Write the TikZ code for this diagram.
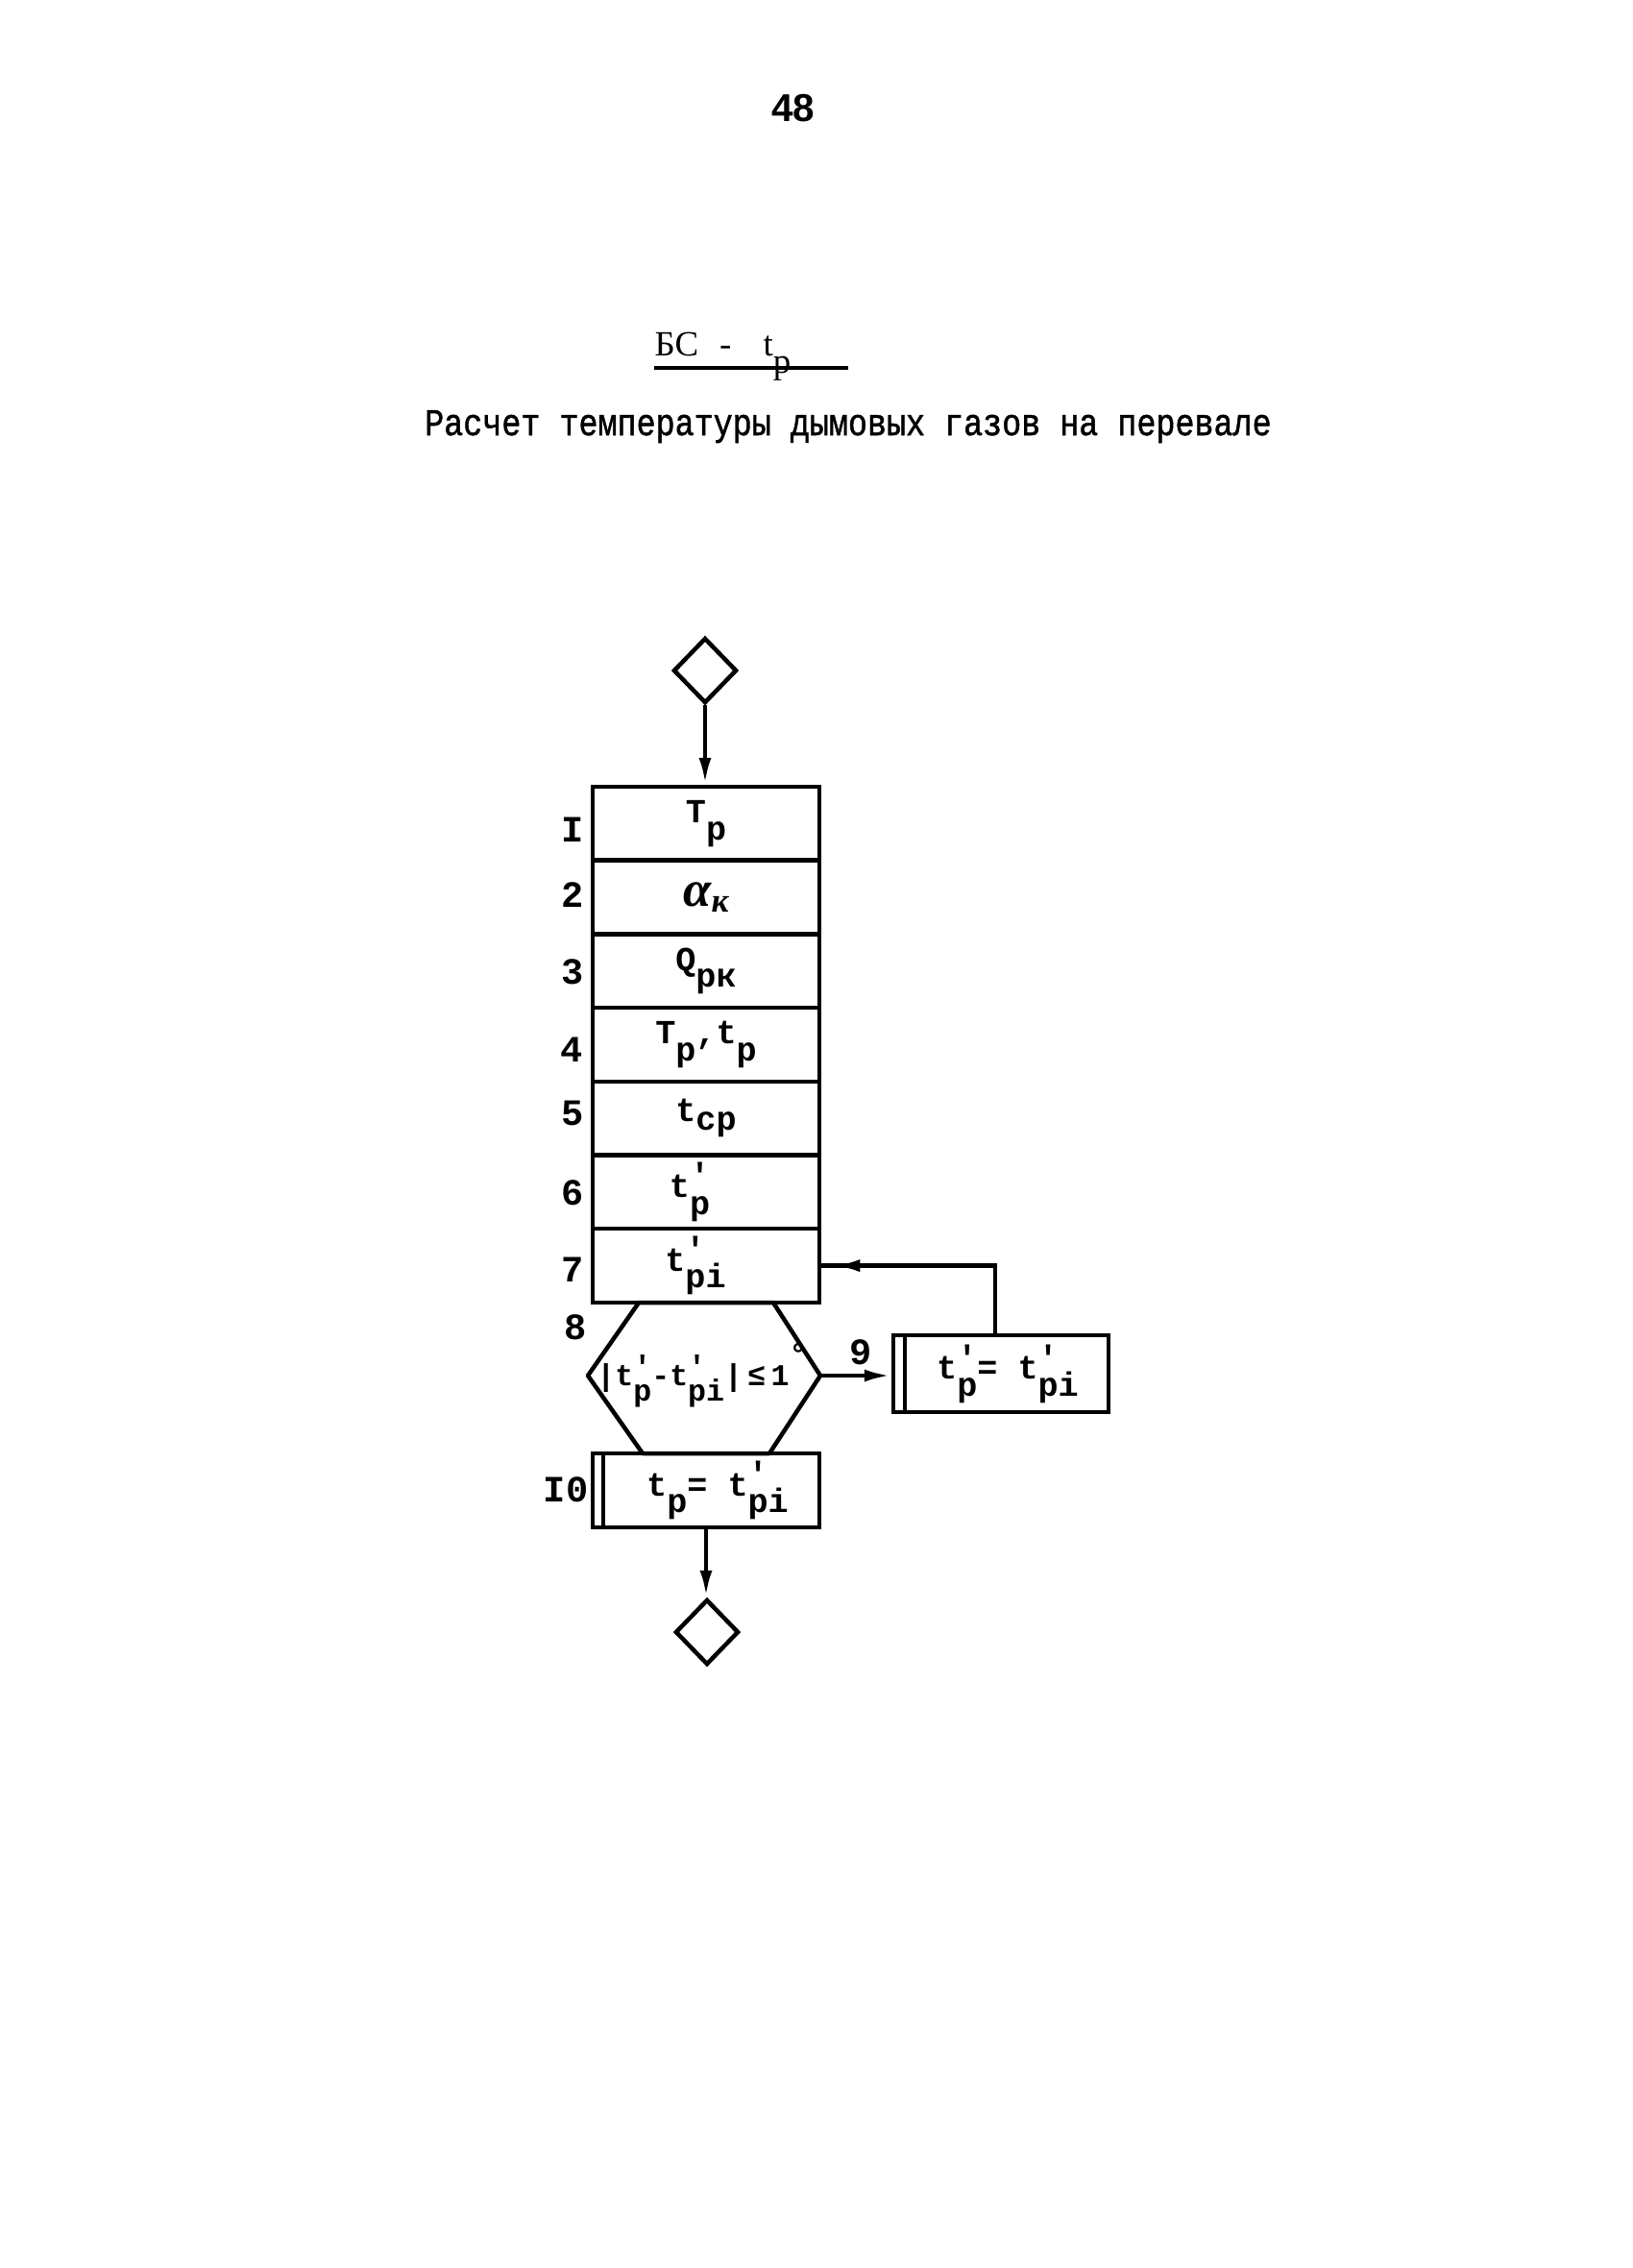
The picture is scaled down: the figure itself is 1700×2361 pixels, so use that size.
\documentclass[tikz,border=0pt]{standalone}
\usepackage{fontspec}
\usepackage{graphicx}
\setmainfont{Liberation Serif}
\newfontfamily\tw{Liberation Mono}
\newfontfamily\twt{Liberation Mono}[FakeBold=1.3]
\newfontfamily\pgnum{Liberation Sans}
\usetikzlibrary{arrows.meta,shapes.geometric,calc}
\newcommand\lo[1]{\raisebox{-0.5em}{#1}}
\newcommand\ps[1]{\rlap{\raisebox{0.3em}{'}}\raisebox{-0.5em}{#1}}
\begin{document}
\begin{tikzpicture}[x=0.1mm,y=-0.1mm,
  ln/.style={line width=0.45mm},
  rowbox/.style={draw,ln,minimum width=23.6mm,minimum height=7.67mm,inner sep=0pt,
    font=\tw\bfseries\fontsize{10}{12}\selectfont},
  num/.style={inner sep=0pt,font=\tw\bfseries\fontsize{11}{13}\selectfont},
  arr/.style={ln,-{Latex[length=2.8mm,width=1.3mm]}},
  term/.style={shape=diamond,draw,ln,minimum width=6.6mm,minimum height=6.8mm,inner sep=0pt}]
\useasboundingbox (0,0) rectangle (1700,2361);
\fill[white] (0,0) rectangle (1700,2361);

% page number, heading, title
\node[inner sep=0pt,font=\pgnum\bfseries\fontsize{11.5}{13}\selectfont] (pg) at (826,113) {48};
\node[anchor=base west,inner sep=0pt,font=\fontsize{10.5}{12}\selectfont] (hd) at (681,370)
  {БС\hspace{2.2mm}-\hspace{3.3mm}t\lo{р}};
\draw[line width=0.35mm] (hd.base west) ++(0,13) -- ++(202,0);
\node[anchor=base,inner sep=0pt,font=\twt\fontsize{9.5}{11}\selectfont] (ttl) at (883,453)
  {\scalebox{1}[1.18]{Расчет температуры дымовых газов на перевале}};

% start terminal
\node[term] (beg) at (734,698) {};

% stacked rows
\node[rowbox] (r1) at (735,857.35) {T\lo{р}};
\node[rowbox] (r2) at (735,934.05) {{\rmfamily\bfseries\itshape\fontsize{15}{16}\selectfont α\raisebox{-0.1em}{\fontsize{10}{10}\selectfont к}}};
\node[rowbox] (r3) at (735,1010.75) {Q\lo{рк}};
\node[rowbox] (r4) at (735,1087.45) {T\lo{р},t\lo{р}};
\node[rowbox] (r5) at (735,1164.15) {t\raisebox{-0.25em}{ср}};
\node[rowbox] (r6) at (735,1240.85) {\hspace*{-3.4mm}t\ps{р}};
\node[rowbox] (r7) at (735,1317.55) {\hspace*{-2.2mm}t\ps{р}\lo{i}};

% row numbers
\node[num] (n1) at (596,864) {I};
\node[num] (n2) at (596,932) {2};
\node[num] (n3) at (596,1012) {3};
\node[num] (n4) at (595,1093) {4};
\node[num] (n5) at (596,1159) {5};
\node[num] (n6) at (596,1242) {6};
\node[num] (n7) at (596,1322) {7};
\node[num] (n8) at (599,1382) {8};
\node[num] (n9) at (896,1408) {9};
\node[num] (n10) at (589,1551) {I0};

% decision hexagon
\draw[ln,line join=round] (665,1356) -- (805,1356) -- (854,1432) -- (801,1513) -- (669,1513) -- (612,1432) -- cycle;
\coordinate (hexR) at (854,1432);
\node[inner sep=0pt,font=\tw\bfseries\fontsize{9}{11}\selectfont] (hx) at (731,1432)
  {|t\ps{р}-t\ps{р}\lo{i}|\,≤\,1\raisebox{0.7em}{°}};

% box 9
\node[rowbox,minimum width=22.4mm,minimum height=8mm] (b9) at (1042,1430)
  {\hspace*{1.4mm}t\ps{р}= t\ps{р}\lo{i}};
\draw[ln] ([xshift=1.4mm]b9.north west) -- ([xshift=1.4mm]b9.south west);

% box 10
\node[rowbox] (b10) at (735,1551.5) {\hspace*{2.4mm}t\lo{р}= t\ps{р}\lo{i}};
\draw[ln] ([xshift=1.3mm]b10.north west) -- ([xshift=1.3mm]b10.south west);

% end terminal
\node[term] (fin) at (736,1699) {};

% connectors
\draw[arr] (beg.south) -- (beg.south |- r1.north);
\draw[arr] (hexR) -- (hexR -| b9.west);
\draw[ln] ([xshift=-0.6mm]b9.north) |- (r7.east);
\draw[arr] ([xshift=4mm]r7.east) -- ([xshift=1.2mm]r7.east);
\draw[arr] (b10.south) -- (b10.south |- fin.north);
\end{tikzpicture}
\end{document}
